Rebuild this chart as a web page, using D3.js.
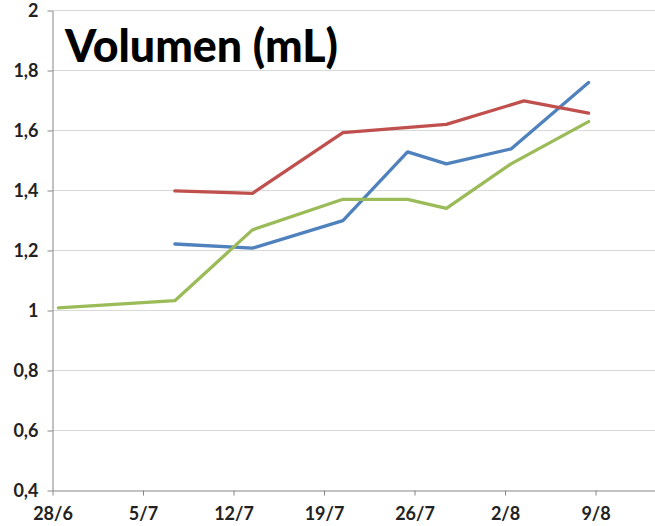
<!DOCTYPE html>
<html>
<head>
<meta charset="utf-8">
<script src="https://cdn.jsdelivr.net/npm/d3@7/dist/d3.min.js"></script>
<style>
  html, body { margin: 0; padding: 0; background: #fff; }
  svg { display: block; }
</style>
</head>
<body>
<svg id="chart" width="655" height="526"></svg>
<script>
// ---- data ----
const title = "Volumen (mL)";
const xTickLabels = ["28/6", "5/7", "12/7", "19/7", "26/7", "2/8", "9/8"];
const yTickValues = [0.4, 0.6, 0.8, 1, 1.2, 1.4, 1.6, 1.8, 2];

const blueDates  = ["7/7", "13/7", "20/7", "25/7", "28/7", "2/8", "8/8"];
const blueValues = [1.22, 1.206, 1.298, 1.527, 1.487, 1.537, 1.758];

const redDates   = ["7/7", "13/7", "20/7", "28/7", "3/8", "8/8"];
const redValues  = [1.397, 1.389, 1.591, 1.619, 1.697, 1.656];

const greenDates  = ["28/6", "7/7", "13/7", "20/7", "25/7", "28/7", "2/8", "8/8"];
const greenValues = [1.007, 1.031, 1.267, 1.369, 1.369, 1.339, 1.487, 1.628];

const seriesColors = ["#4f81bd", "#c0504d", "#9bbb59"];

// ---- setup ----
const parse = s => d3.utcParse("%d/%m/%Y")(s + "/2013");
const mid = d => d3.utcHour.offset(parse(d), 12);

const svg = d3.select("#chart");
const mLeft = 52, mTop = 10, mBottom = 490;
const pxPerDay = 12.93;

const x = d3.scaleUtc()
  .domain([parse("28/6"), parse("14/8")])
  .range([mLeft, mLeft + 47 * pxPerDay]);
const y = d3.scaleLinear().domain([0.4, 2]).range([mBottom, mTop]);

const fmt = v => String(v).replace(".", ",");

// gridlines
svg.append("g")
  .selectAll("line")
  .data(yTickValues.filter(v => v > 0.4))
  .join("line")
  .attr("x1", mLeft).attr("x2", 700)
  .attr("y1", d => Math.round(y(d)) + 0.5).attr("y2", d => Math.round(y(d)) + 0.5)
  .attr("stroke", "#d9d9d9").attr("stroke-width", 1);

// y axis
const yAxis = svg.append("g")
  .attr("transform", `translate(${mLeft + 0.5},0.5)`)
  .call(d3.axisLeft(y).tickValues(yTickValues).tickFormat(fmt).tickSize(5).tickSizeOuter(0).tickPadding(9));
yAxis.select(".domain").attr("stroke", "#868686");
yAxis.selectAll(".tick line").attr("stroke", "#868686");
yAxis.selectAll(".tick text")
  .attr("font-family", "Lato, 'Open Sans', sans-serif")
  .attr("font-weight", "bold")
  .attr("font-size", 18)
  .attr("fill", "#222");

// x axis
const xAxis = svg.append("g")
  .attr("transform", `translate(0.5,${mBottom + 0.5})`)
  .call(d3.axisBottom(x).tickValues(xTickLabels.map(parse)).tickFormat((d, i) => xTickLabels[i]).tickSize(5).tickSizeOuter(0).tickPadding(12));
xAxis.select(".domain").attr("stroke", "#868686");
xAxis.selectAll(".tick line").attr("stroke", "#868686");
xAxis.selectAll(".tick text")
  .attr("font-family", "Lato, 'Open Sans', sans-serif")
  .attr("font-weight", "bold")
  .attr("font-size", 18)
  .attr("fill", "#222");

// lines
const line = d3.line().x(d => x(mid(d[0]))).y(d => y(d[1]));
const series = [
  d3.zip(blueDates, blueValues),
  d3.zip(redDates, redValues),
  d3.zip(greenDates, greenValues)
];
svg.append("g")
  .selectAll("path")
  .data(series)
  .join("path")
  .attr("d", line)
  .attr("fill", "none")
  .attr("stroke", (d, i) => seriesColors[i])
  .attr("stroke-width", 3.3)
  .attr("stroke-linejoin", "round")
  .attr("stroke-linecap", "round");

// title
svg.append("text")
  .attr("x", 65).attr("y", 62)
  .attr("font-family", "Lato, 'Open Sans', sans-serif")
  .attr("font-weight", 900)
  .attr("font-size", 45)
  .attr("textLength", 273)
  .attr("lengthAdjust", "spacingAndGlyphs")
  .attr("fill", "#000")
  .text(title);
</script>
</body>
</html>
